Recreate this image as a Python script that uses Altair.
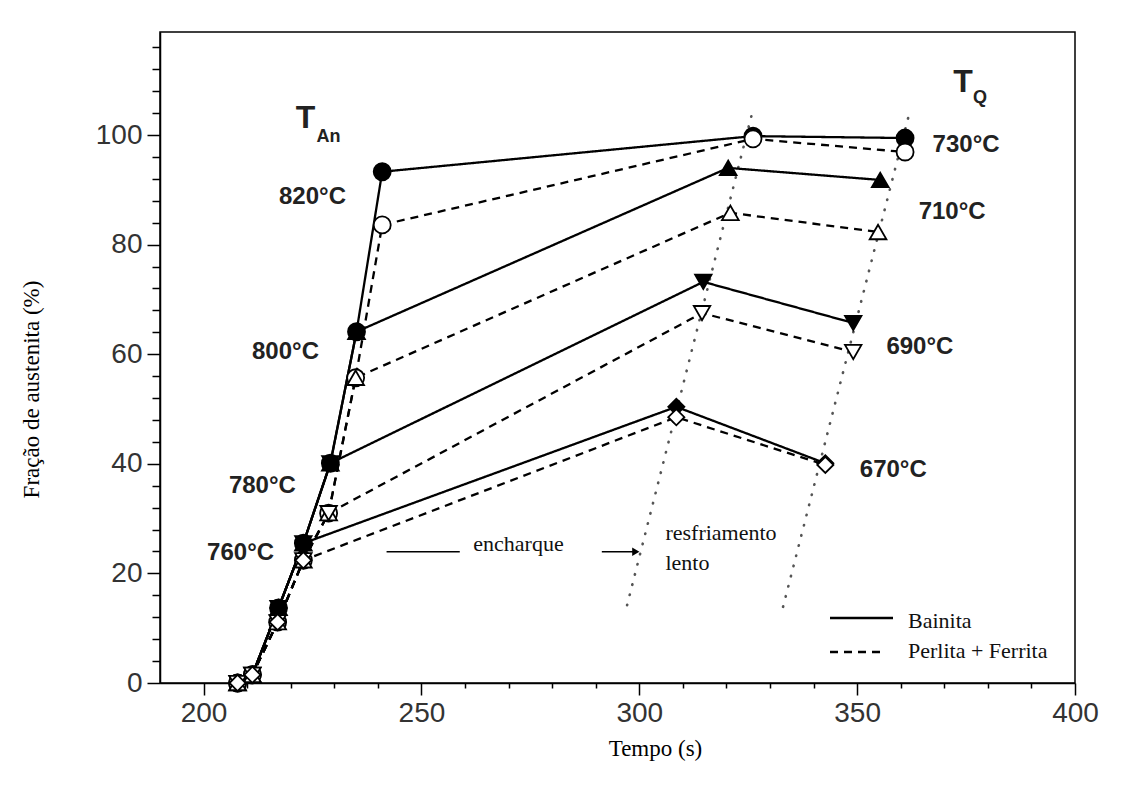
import altair as alt
import pandas as pd

# ---------------- data ----------------
TIPOS = ["Bainita", "Perlita + Ferrita"]
T_AN = [760, 780, 800, 820]
T_Q = [670, 690, 710, 730]
MARCADORES = ["diamond", "triangle-down", "triangle-up", "circle"]
FIM_AQUEC = [3, 4, 5, 6]  # index of the heating point where each T_An is reached

# heating (common) curve
aquec_t_bain = [207.8, 211.2, 217.2, 222.9, 229.1, 235.1, 241.0]
aquec_f_bain = [0.0, 1.5, 13.7, 25.5, 40.1, 64.1, 93.3]
aquec_t_pf = [207.8, 211.2, 217.0, 222.9, 228.7, 234.9, 241.0]
aquec_f_pf = [0.0, 1.5, 11.1, 22.4, 31.0, 55.7, 83.6]

# end of soak (encharque)
ench_t_bain = [308.5, 314.7, 320.4, 326.1]
ench_f_bain = [50.4, 73.2, 94.0, 99.8]
ench_t_pf = [308.5, 314.4, 320.9, 326.1]
ench_f_pf = [48.5, 67.5, 85.8, 99.3]

# after slow cooling to T_Q
resf_t_bain = [342.7, 349.1, 355.3, 361.0]
resf_f_bain = [40.1, 65.7, 91.8, 99.45]
resf_t_pf = [342.7, 349.1, 354.8, 361.0]
resf_f_pf = [39.8, 60.4, 82.3, 96.9]

# dotted guide lines (bottom, top)
guia_t = [[297.2, 325.9], [333.0, 361.7]]
guia_f = [[14.2, 104.0], [13.9, 103.1]]

# temperature labels
rot_an_txt = ["760°C", "780°C", "800°C", "820°C"]
rot_an_t = [208.5, 213.5, 218.8, 225.0]
rot_an_f = [23.7, 35.9, 60.4, 88.7]
rot_q_txt = ["670°C", "690°C", "710°C", "730°C"]
rot_q_t = [358.3, 364.4, 371.8, 375.0]
rot_q_f = [38.9, 61.3, 85.9, 98.2]

# axis ticks
x_major = [200, 250, 300, 350, 400]
x_minor = [v for v in range(200, 401, 10) if v % 50 != 0]
y_major = [0, 20, 40, 60, 80, 100]
y_minor = [v for v in range(0, 117, 4) if v % 20 != 0]

# ---------------- tables ----------------
linhas = []
curvas = {
    "Bainita": (aquec_t_bain, aquec_f_bain, ench_t_bain, ench_f_bain, resf_t_bain, resf_f_bain),
    "Perlita + Ferrita": (aquec_t_pf, aquec_f_pf, ench_t_pf, ench_f_pf, resf_t_pf, resf_f_pf),
}
for tipo in TIPOS:
    at, af, et, ef, rt, rf = curvas[tipo]
    for k in [3, 2, 1, 0]:
        n = FIM_AQUEC[k]
        pts = list(zip(at[: n + 1], af[: n + 1])) + [(et[k], ef[k]), (rt[k], rf[k])]
        for i, (t, f) in enumerate(pts):
            linhas.append(dict(serie=f"{T_AN[k]}-{T_Q[k]}-{tipo}", tipo=tipo,
                               marcador=MARCADORES[k], t=t, f=f, ordem=i))
df = pd.DataFrame(linhas)

guias = pd.DataFrame([
    dict(g=j, t=guia_t[j][i], f=guia_f[j][i], ordem=i) for j in range(2) for i in range(2)
])
rot_an = pd.DataFrame(dict(txt=rot_an_txt, t=rot_an_t, f=rot_an_f))
rot_q = pd.DataFrame(dict(txt=rot_q_txt, t=rot_q_t, f=rot_q_f))

T_big = pd.DataFrame(dict(txt=["T", "T"], t=[223.4, 374.3], f=[103.1, 109.7]))
T_sub = pd.DataFrame(dict(txt=["An", "Q"], t=[228.7, 378.2], f=[99.6, 106.8]))

anot_txt = pd.DataFrame(dict(txt=["encharque", "resfriamento", "lento"],
                             t=[261.9, 306.0, 306.0], f=[25.3, 27.4, 21.9]))
anot_seg = pd.DataFrame(dict(t=[242.0, 291.4], t2=[258.8, 299.0], f=[23.96, 23.96]))
anot_seta = pd.DataFrame(dict(t=[299.2], f=[23.96]))

# ---------------- scales / axes ----------------
xscale = alt.Scale(domain=[190, 400], nice=False, zero=False)
yscale = alt.Scale(domain=[0, 118.8], nice=False, zero=False)

common_axis = dict(domainColor="black", domainWidth=1.5, tickColor="black", tickWidth=1.5,
                   grid=False)

x_axis = alt.Axis(
    values=x_major, orient="bottom", tickSize=12,
    title="Tempo (s)", titleFont="Liberation Serif", titleFontSize=23,
    titleFontWeight="normal", titleColor="black",
    titleX=495, titleY=65, titleBaseline="middle", titleAlign="center",
    labelFont="Liberation Sans", labelFontSize=28, labelColor="#333",
    labelPadding=4, labelFlush=False, labelOverlap=False, format="d",
    **common_axis,
)
y_axis = alt.Axis(
    values=y_major, orient="left", tickSize=13,
    title="Fração de austenita (%)", titleFont="Liberation Serif", titleFontSize=23,
    titleFontWeight="normal", titleColor="black",
    titleX=-129, titleY=357, titleAngle=-90, titleBaseline="middle", titleAlign="center",
    labelFont="Liberation Sans", labelFontSize=28, labelColor="#333",
    labelPadding=5, labelFlush=False, labelOverlap=False, format="d",
    **common_axis,
)
x_axis_minor = alt.Axis(values=x_minor, orient="bottom", tickSize=5, labels=False, domain=False,
                        title=None, tickColor="black", tickWidth=1.5, grid=False)
y_axis_minor = alt.Axis(values=y_minor, orient="left", tickSize=8, labels=False, domain=False,
                        title=None, tickColor="black", tickWidth=1.5, grid=False)

X = lambda: alt.X("t:Q", scale=xscale, axis=None)
Y = lambda: alt.Y("f:Q", scale=yscale, axis=None)

# ---------------- layers ----------------
guia_layer = alt.Chart(guias).mark_line(
    color="#555", strokeWidth=2.6, strokeDash=[0.5, 10], strokeCap="round"
).encode(
    x=alt.X("t:Q", scale=xscale, axis=x_axis_minor),
    y=alt.Y("f:Q", scale=yscale, axis=y_axis_minor),
    detail="g:N", order="ordem:Q",
)

line_layer = alt.Chart(df).mark_line(color="black", strokeWidth=2.3).encode(
    x=alt.X("t:Q", scale=xscale, axis=x_axis),
    y=alt.Y("f:Q", scale=yscale, axis=y_axis),
    detail="serie:N", order="ordem:Q",
    strokeDash=alt.StrokeDash("tipo:N", scale=alt.Scale(domain=TIPOS, range=[[1, 0], [8, 6]]),
                              legend=None),
)

point_layer = alt.Chart(df).mark_point(filled=True, stroke="black", strokeWidth=1.8, opacity=1).encode(
    x=X(), y=Y(),
    shape=alt.Shape("marcador:N", scale=alt.Scale(domain=MARCADORES, range=MARCADORES), legend=None),
    size=alt.Size("marcador:N", scale=alt.Scale(domain=MARCADORES, range=[260, 290, 290, 200]),
                  legend=None),
    fill=alt.Fill("tipo:N", scale=alt.Scale(domain=TIPOS, range=["black", "white"]), legend=None),
)

txt_style = dict(font="Liberation Sans", fontWeight="bold", color="#222", align="center",
                 baseline="middle")
an_layer = alt.Chart(rot_an).mark_text(fontSize=24, **txt_style).encode(x=X(), y=Y(), text="txt:N")
q_layer = alt.Chart(rot_q).mark_text(fontSize=24, **txt_style).encode(x=X(), y=Y(), text="txt:N")
tbig_layer = alt.Chart(T_big).mark_text(fontSize=32, **txt_style).encode(x=X(), y=Y(), text="txt:N")
tsub_layer = alt.Chart(T_sub).mark_text(fontSize=18, **txt_style).encode(x=X(), y=Y(), text="txt:N")

anot_layer = alt.Chart(anot_txt).mark_text(font="Liberation Serif", fontSize=22, color="#111",
                                           align="left", baseline="middle").encode(
    x=X(), y=Y(), text="txt:N")
seg_layer = alt.Chart(anot_seg).mark_rule(color="black", strokeWidth=1.5).encode(
    x=X(), x2="t2:Q", y=Y())
seta_layer = alt.Chart(anot_seta).mark_point(shape="triangle-right", filled=True, color="black",
                                             size=70, opacity=1).encode(x=X(), y=Y())

# legend (drawn in plot-pixel space)
dummy = pd.DataFrame({"a": [0]})
leg_solid = alt.Chart(dummy).mark_rule(color="black", strokeWidth=2.3).encode(
    x=alt.value(670), x2=alt.value(733), y=alt.value(586))
leg_dash = alt.Chart(dummy).mark_rule(color="black", strokeWidth=2.3, strokeDash=[8, 6]).encode(
    x=alt.value(670), x2=alt.value(724), y=alt.value(620))
leg_txt1 = alt.Chart(dummy).mark_text(font="Liberation Serif", fontSize=22, color="#111",
                                      align="left", baseline="middle", text="Bainita").encode(
    x=alt.value(748), y=alt.value(589))
leg_txt2 = alt.Chart(dummy).mark_text(font="Liberation Serif", fontSize=22, color="#111",
                                      align="left", baseline="middle", text="Perlita + Ferrita").encode(
    x=alt.value(748), y=alt.value(619))

chart = alt.layer(
    guia_layer, line_layer, point_layer, an_layer, q_layer, tbig_layer, tsub_layer,
    seg_layer, seta_layer, anot_layer, leg_solid, leg_dash, leg_txt1, leg_txt2,
).resolve_axis(x="independent", y="independent").properties(
    width=915, height=651,
    padding={"left": 160, "top": 32, "right": 56, "bottom": 115},
    autosize=alt.AutoSizeParams(type="none"),
    background="white",
).configure_view(stroke="black", strokeWidth=1.5)

chart.save("out.html", embed_options={"renderer": "svg", "actions": False})
